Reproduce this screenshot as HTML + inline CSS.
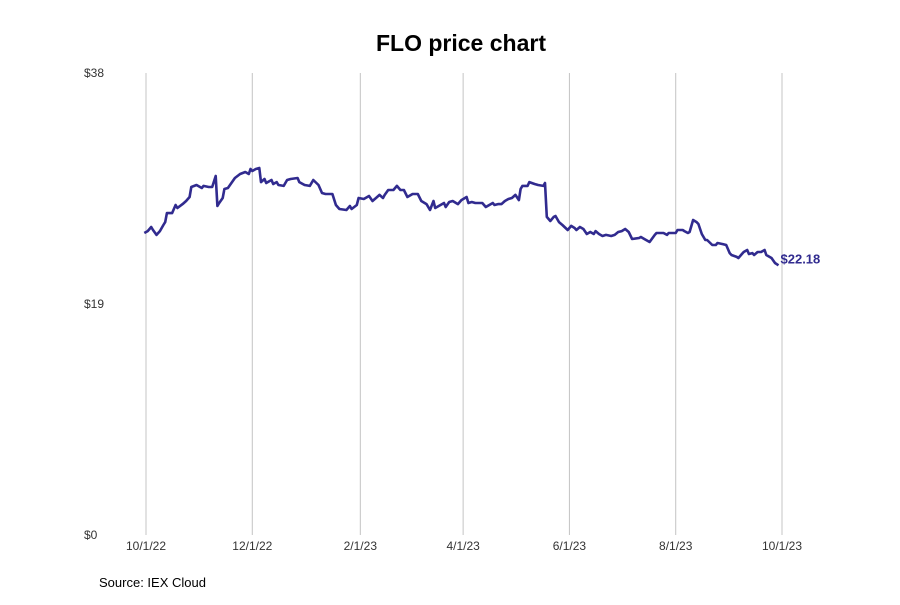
<!DOCTYPE html>
<html><head><meta charset="utf-8"><style>
body{margin:0;background:#fff;width:900px;height:600px;overflow:hidden;font-family:"Liberation Sans",sans-serif}
</style></head><body>
<svg id="chart" width="900" height="600" xmlns="http://www.w3.org/2000/svg" style="font-family:'Liberation Sans',sans-serif">
<text x="461" y="51" text-anchor="middle" font-size="23" font-weight="bold" fill="#000">FLO price chart</text>
<g id="grid"></g>
<g id="yaxis"></g>
<g id="xaxis"></g>
<g id="series"></g>
<text x="99" y="587" font-size="13" fill="#000">Source: IEX Cloud</text>
</svg>
<script>
const xTickLabels=["10/1/22","12/1/22","2/1/23","4/1/23","6/1/23","8/1/23","10/1/23"];
const xTickDays=[0,61,123,182,243,304,365];
const yTickValues=[0,19,38];
const yTickLabels=["$0","$19","$38"];
const days=[-1,1,3,4,6,8,10,11,12,15,17,18,21,23,25,26,29,32,33,36,38,40,41,42,44,45,47,49,51,54,57,59,60,61,63,65,66,68,69,72,73,75,76,79,81,83,87,88,91,94,96,99,101,103,107,109,111,115,117,118,121,122,125,128,130,132,134,136,137,139,142,144,146,148,150,153,156,158,161,163,165,166,169,171,172,174,176,179,181,184,185,187,189,193,195,197,199,200,202,204,206,208,210,212,214,215,216,219,220,223,225,228,229,230,232,234,235,237,239,242,244,246,247,249,251,253,255,257,258,260,262,264,267,269,271,273,275,277,279,283,284,286,289,292,293,297,299,300,304,305,308,309,311,312,314,316,317,319,321,322,325,327,328,331,333,335,336,339,340,342,343,345,346,348,349,351,353,355,356,359,361,363];
const prices=[24.84,25.00,25.33,25.09,24.68,25.00,25.50,25.74,26.48,26.48,27.14,26.90,27.22,27.47,27.80,28.62,28.79,28.54,28.71,28.62,28.62,29.53,27.06,27.31,27.72,28.46,28.54,28.95,29.36,29.69,29.86,29.69,30.10,29.94,30.10,30.19,29.03,29.28,28.95,29.20,28.87,29.03,28.79,28.71,29.20,29.28,29.36,29.03,28.79,28.71,29.20,28.79,28.13,28.05,28.05,27.14,26.81,26.73,27.06,26.81,27.14,27.72,27.64,27.88,27.47,27.72,27.97,27.72,27.97,28.38,28.38,28.71,28.38,28.38,27.80,28.05,28.05,27.47,27.22,26.73,27.47,26.90,27.14,27.31,26.98,27.39,27.47,27.22,27.55,27.80,27.31,27.39,27.31,27.31,26.98,27.14,27.31,27.14,27.22,27.22,27.47,27.64,27.72,27.97,27.55,28.46,28.71,28.71,29.03,28.87,28.79,28.71,28.95,26.16,25.83,26.16,26.24,25.74,25.50,25.09,25.42,25.25,25.09,25.33,25.17,24.76,24.92,24.76,25.00,24.76,24.59,24.68,24.59,24.68,24.92,25.00,25.17,24.92,24.35,24.43,24.51,24.35,24.10,24.68,24.84,24.84,24.68,24.84,24.84,25.09,25.09,25.00,24.84,24.92,25.91,25.74,25.58,24.76,24.26,24.26,23.85,23.85,24.02,23.93,23.85,23.19,23.03,22.87,22.78,23.11,23.28,23.44,23.11,23.19,23.03,23.28,23.28,23.44,23.03,22.78,22.37,22.18];
const lastLabel="$22.18";
const NS="http://www.w3.org/2000/svg";
const X0=146,X1=782,Y0=535,Y1=73;
function xs(d){return X0+(d/365)*(X1-X0);}
function ys(v){return Y0-(v/38)*(Y0-Y1);}
function mk(tag,attrs,parent){const e=document.createElementNS(NS,tag);for(const k in attrs)e.setAttribute(k,attrs[k]);parent.appendChild(e);return e;}
const grid=document.getElementById('grid'),xa=document.getElementById('xaxis'),ya=document.getElementById('yaxis'),ser=document.getElementById('series');
xTickDays.forEach((d,i)=>{
  const l=mk('line',{x1:xs(d),x2:xs(d),y1:Y1,y2:Y0,stroke:'#c4c4c4','stroke-width':1},grid);
  
  
  const t=mk('text',{x:xs(d),y:550,'text-anchor':'middle','font-size':12,fill:'#333'},xa);
  t.textContent=xTickLabels[i];
  
  
});
yTickValues.forEach((v,i)=>{
  const t=mk('text',{x:84,y:ys(v)+4,'font-size':12,fill:'#333'},ya);
  t.textContent=yTickLabels[i];
  
  
});
const pts=days.map((d,i)=>xs(d).toFixed(1)+','+ys(prices[i]).toFixed(1)).join(' ');
const pl=mk('polyline',{points:pts,fill:'none',stroke:'#312b8f','stroke-width':2.6,'stroke-linejoin':'round'},ser);


const lt=mk('text',{x:xs(days[days.length-1])+2,y:ys(prices[prices.length-1])-2,'font-size':13,'font-weight':'bold',fill:'#312b8f'},ser);
lt.textContent=lastLabel;


</script>
</body></html>
